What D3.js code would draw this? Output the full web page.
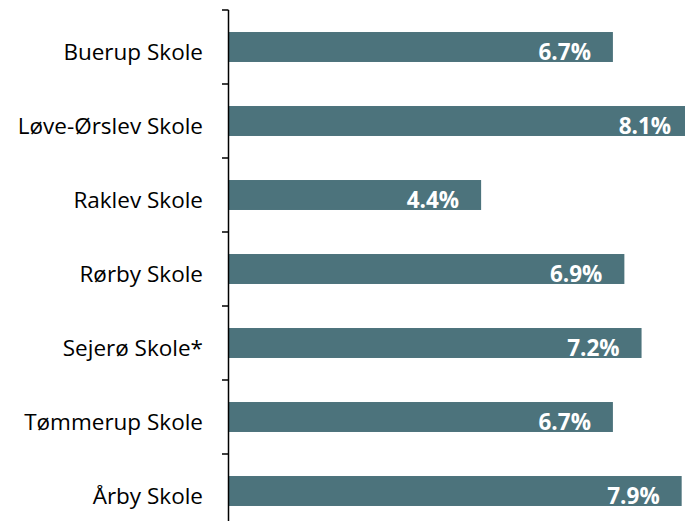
<!DOCTYPE html>
<html>
<head>
<meta charset="utf-8">
<script src="https://cdn.jsdelivr.net/npm/d3@7"></script>
<style>
	body { margin: 0; background: #fff; }
	svg { display: block; }
</style>
</head>
<body>
<div id="chart"></div>
<script>
const schools = ["Buerup Skole", "Løve-Ørslev Skole", "Raklev Skole", "Rørby Skole", "Sejerø Skole*", "Tømmerup Skole", "Årby Skole"];
const shares = [6.7, 8.1, 4.4, 6.9, 7.2, 6.7, 7.9];

let width = 685,
	height = 521;

let svg = d3.select("#chart")
	.append("svg")
		.attr("width", width)
		.attr("height", height);

// x: percent -> px, the longest bar runs past the right edge like the original
let x = d3.scaleLinear()
	.domain([0, 10])
	.range([229, 229 + 573]);

let y = d3.scaleBand()
	.domain(schools)
	.range([10, 10 + 7 * 74])
	.paddingInner(0.595)
	.paddingOuter(0.2975);

svg.selectAll(".bar")
	.data(schools)
	.enter()
	.append("rect")
		.attr("class", "bar")
		.attr("x", x(0))
		.attr("y", d => y(d))
		.attr("width", (d, i) => x(shares[i]) - x(0))
		.attr("height", y.bandwidth())
		.attr("fill", "#4c737c");

svg.selectAll(".val")
	.data(schools)
	.enter()
	.append("text")
		.attr("class", "val")
		.attr("x", (d, i) => x(shares[i]) - 22)
		.attr("y", d => y(d) + y.bandwidth() / 2 + 12.5)
		.attr("text-anchor", "end")
		.attr("fill", "#fff")
		.style("font-family", "'Open Sans', sans-serif")
		.style("font-weight", "bold")
		.style("font-size", "22.5px")
		.text((d, i) => shares[i].toFixed(1) + "%");

// category axis with ticks between the bands
let axis = svg.append("g");

axis.append("line")
	.attr("x1", 228.5).attr("x2", 228.5)
	.attr("y1", 10).attr("y2", height)
	.attr("stroke", "#000")
	.attr("stroke-width", 1.5);

let tickPos = d3.range(schools.length + 1).map(i => y.range()[0] + i * y.step());

axis.selectAll(".tick")
	.data(tickPos)
	.enter()
	.append("line")
		.attr("x1", 222).attr("x2", 228.5)
		.attr("y1", d => d).attr("y2", d => d)
		.attr("stroke", "#000")
		.attr("stroke-width", 1.5);

axis.selectAll(".lbl")
	.data(schools)
	.enter()
	.append("text")
		.attr("x", 203)
		.attr("y", d => y(d) + y.bandwidth() / 2 + 12.5)
		.attr("text-anchor", "end")
		.attr("fill", "#000")
		.style("font-family", "'Open Sans', sans-serif")
		.style("font-size", "22.5px")
		.text(d => d);
</script>
</body>
</html>
